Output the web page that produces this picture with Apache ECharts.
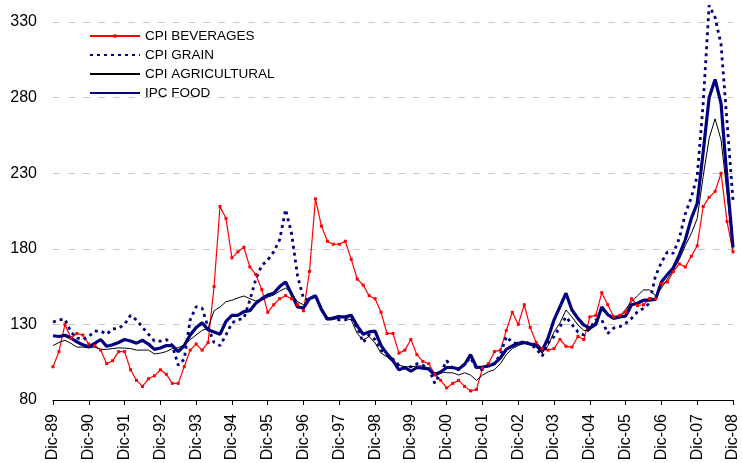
<!DOCTYPE html>
<html>
<head>
<meta charset="utf-8">
<script src="https://cdn.jsdelivr.net/npm/echarts@6/dist/echarts.min.js"></script>
<style>
  html, body { margin: 0; padding: 0; background: #fff; }
  #chart { width: 742px; height: 463px; }
</style>
</head>
<body>
<div id="chart"></div>
<script>
// bimonthly points from Dic-89 to Dic-08
const monthNames = ['Dic', 'Feb', 'Abr', 'Jun', 'Ago', 'Oct']
const months = []
for (let i = 0; i < 115; i++) {
  const yr = 1989 + Math.ceil(i / 6)
  months.push(monthNames[i % 6] + '-' + String(yr).slice(2))
}

const yTicks = { min: 80, max: 330, step: 50 }

const beverages = [
  102, 112, 130, 121, 124, 123, 117, 116, 113, 104, 106, 112,
  112, 100, 93, 89, 94, 96, 100, 97, 91, 91, 102, 113,
  117, 113, 118, 155, 208, 200, 174, 178, 181, 168, 163, 153,
  138, 143, 147, 149, 147, 143, 139, 165, 213, 195, 185, 183,
  183, 185, 173, 160, 156, 149, 147, 138, 124, 124, 111, 113,
  120, 110, 105.5, 104, 97, 93, 88, 91, 93, 89, 86, 87,
  101, 104, 112, 113, 126, 138, 130, 143, 128, 118, 114, 113,
  114, 120, 115.5, 115, 122, 120, 135, 136, 151, 143, 135, 136,
  138, 147, 142.5, 143, 147, 147, 157, 158, 165, 170, 168, 175,
  182, 208, 214, 218, 230, 198, 178
]

const grain = [
  131.5, 133, 133.5, 125, 121, 120, 122, 125.6, 125.6, 123.5, 127, 127.5,
  130, 136, 133, 128, 123.5, 119, 119, 120, 116, 103, 107, 133,
  141.7, 140.8, 128, 118, 116, 123, 131, 133, 134, 146, 160, 169,
  172.6, 178, 186, 206, 190, 162, 147, 146, 149, 140, 133, 134,
  133, 133, 134, 128, 118, 123, 120, 113, 110, 107, 103, 101,
  102, 104, 103, 101, 91, 98, 106, 101, 100, 104, 108, 101,
  100, 103, 104, 110, 122, 118, 117, 119, 117, 114, 109, 117.7,
  122, 128.5, 135, 130, 125, 123, 127.6, 133, 133, 124, 127.6, 128.5,
  130.7, 134, 138.4, 140.6, 144, 162, 171, 178, 177, 187, 203, 214,
  228, 276, 341, 333, 315, 264, 212
]

const agricultural = [
  116, 118, 119.5, 117.5, 115, 115, 114.6, 115, 113.5, 113.5, 114, 114.5,
  114.3, 114, 113, 113, 113, 110.5, 111, 112, 114, 114.5, 116.5, 120,
  123, 126, 127.5, 139, 141.5, 145, 146, 147.5, 148.8, 147, 145.5, 146,
  148, 149.4, 152, 154, 150.5, 145, 143, 146, 149, 138.4, 134, 135,
  136, 134, 133, 124, 119.7, 122, 117.7, 111, 108.5, 105, 103, 102,
  102, 102.5, 102.5, 101, 98, 98.7, 98, 98, 96.5, 98, 96.5, 93,
  96.5, 98.7, 100, 104, 110, 114, 116, 117.5, 116.4, 115, 111, 116,
  125, 131, 139.5, 135, 129.6, 126, 126, 132, 139.5, 136, 134, 135,
  140, 145, 149, 152.8, 152.8, 149, 154, 160, 166, 173, 182, 190,
  200, 228, 253, 266, 252, 217, 180
]

const food = [
  122.5, 122, 122.8, 121, 118.5, 116.5, 115, 117.5, 120, 115.5, 116.5, 118,
  120, 119, 117.6, 119.5, 117, 113.5, 114.4, 116, 116, 112, 116, 123,
  128, 131, 126.5, 125, 123.5, 132, 136, 136, 138.4, 139, 144, 147,
  149.4, 150.6, 155, 158, 150, 141.5, 141, 147, 149, 140, 133.5, 134,
  135, 135, 136, 129, 123.5, 125, 125.5, 116, 110.5, 106, 100, 101.5,
  99, 101.5, 101, 100.5, 96.5, 98.5, 101.5, 101.5, 100.5, 103.5, 110, 101.5,
  101.8, 102.5, 104, 107.8, 113.5, 115.7, 117.5, 118, 117, 116.5, 112.5, 121,
  133, 141.7, 150.6, 139.5, 134, 129.5, 127.6, 130, 141.5, 136.5, 134, 135,
  135.5, 143, 144, 146, 146, 146.5, 158, 163, 167.5, 176, 186, 200,
  210, 244, 280, 292, 276, 226, 181
]

const FONT = 'Liberation Sans, Arial, sans-serif'

const chart = echarts.init(document.getElementById('chart'))

chart.setOption({
  animation: false,
  backgroundColor: '#fff',
  textStyle: { fontFamily: FONT },
  grid: { left: 53, right: 9, top: 22, bottom: 63, outerBoundsMode: 'none' },
  legend: {
    orient: 'vertical',
    left: 89,
    top: 29,
    padding: 0,
    itemWidth: 50,
    itemHeight: 4,
    itemGap: 5,
    textStyle: { fontSize: 13.5, color: '#000', lineHeight: 14, fontFamily: FONT },
    data: [
      { name: 'CPI BEVERAGES' },
      { name: 'CPI GRAIN', itemStyle: { opacity: 0 } },
      { name: 'CPI AGRICULTURAL', itemStyle: { opacity: 0 } },
      { name: 'IPC FOOD', itemStyle: { opacity: 0 } }
    ]
  },
  xAxis: {
    type: 'category',
    data: months,
    boundaryGap: false,
    axisLine: { lineStyle: { color: '#000', width: 1 } },
    axisTick: { interval: 5, length: 5, lineStyle: { color: '#000' } },
    axisLabel: {
      interval: 5,
      rotate: 90,
      margin: 14,
      fontSize: 16,
      color: '#000',
      fontFamily: FONT
    },
    splitLine: { show: false }
  },
  yAxis: {
    type: 'value',
    min: yTicks.min,
    max: yTicks.max,
    interval: yTicks.step,
    axisLine: { show: false },
    axisTick: { show: false },
    axisLabel: { fontSize: 16, color: '#000', margin: 16, fontFamily: FONT },
    splitLine: { lineStyle: { color: '#c8c8c8', width: 1, type: [7, 8] } }
  },
  series: [
    {
      name: 'CPI BEVERAGES',
      type: 'line',
      data: beverages,
      clip: false,
      symbol: 'rect',
      symbolSize: 3,
      showAllSymbol: true,
      itemStyle: { color: '#ff0000' },
      lineStyle: { color: '#ff0000', width: 1.2 }
    },
    {
      name: 'CPI GRAIN',
      type: 'line',
      data: grain,
      clip: false,
      symbol: 'none',
      itemStyle: { color: '#000080' },
      lineStyle: { color: '#000080', width: 2.8, type: [3, 4] }
    },
    {
      name: 'CPI AGRICULTURAL',
      type: 'line',
      data: agricultural,
      clip: false,
      symbol: 'none',
      itemStyle: { color: '#000' },
      lineStyle: { color: '#000', width: 1 }
    },
    {
      name: 'IPC FOOD',
      type: 'line',
      data: food,
      clip: false,
      symbol: 'none',
      itemStyle: { color: '#000080' },
      lineStyle: { color: '#000080', width: 3.2 }
    }
  ]
})
</script>
</body>
</html>
